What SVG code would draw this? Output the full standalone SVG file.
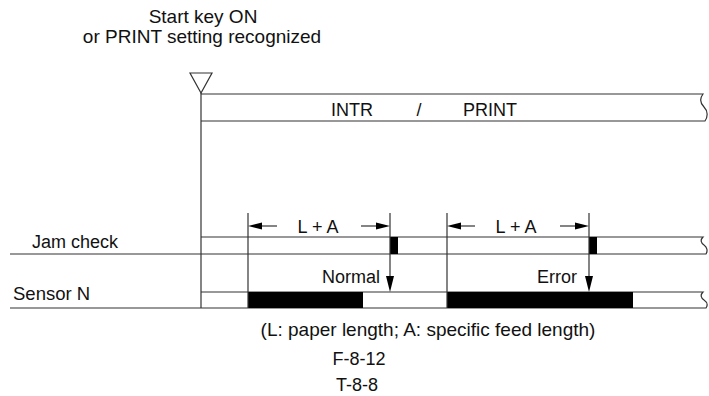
<svg xmlns="http://www.w3.org/2000/svg" width="709" height="396" viewBox="0 0 709 396">
<defs>
<style>
text{font-family:"Liberation Sans",Arial,sans-serif;font-size:18px;fill:#111}
.big{font-size:19px}
.ln{stroke:#333;stroke-width:1.2;fill:none}
.bk{fill:#000}
.ah{fill:#000;stroke:none}
</style>
</defs>
<rect width="709" height="396" fill="#fff"/>
<g id="start-label">
<text class="big" x="203" y="23" text-anchor="middle">Start key ON</text>
<text class="big" x="202" y="43" text-anchor="middle">or PRINT setting recognized</text>
</g>
<g id="start-marker">
<polygon points="190,73 212,73 201,93" class="ln"/>
</g>
<g id="intr-print">
<path class="ln" d="M201,94 H703 C700,98 700,103 704,107 C708,111 708,117 705,121 H201"/>
<text x="352" y="116" text-anchor="middle">INTR</text>
<text x="419" y="116" text-anchor="middle">/</text>
<text x="490" y="116" text-anchor="middle">PRINT</text>
</g>
<g id="jam-check">
<text x="32" y="248">Jam check</text>
<path class="ln" d="M201,237 H703 C700,240 701,243 704,245 C707,247 708,251 706,254 H10"/>
<rect class="bk" x="390" y="237" width="8" height="17"/>
<rect class="bk" x="589" y="237" width="8" height="17"/>
</g>
<g id="sensor-n">
<text x="13" y="300" style="font-size:18.5px">Sensor N</text>
<path class="ln" d="M201,292 H703 C700,295 701,298 704,300 C707,302 708,305 706,308 H10"/>
<rect class="bk" x="248" y="292" width="115" height="16"/>
<rect class="bk" x="447" y="292" width="186" height="16"/>
</g>
<g id="connectors">
<line class="ln" x1="201" y1="93" x2="201" y2="308"/>
<line class="ln" x1="248" y1="213" x2="248" y2="308"/>
<line class="ln" x1="447" y1="213" x2="447" y2="308"/>
<line class="ln" x1="390" y1="213" x2="390" y2="280"/>
<line class="ln" x1="589" y1="213" x2="589" y2="280"/>
<polygon class="ah" points="386,276 394,276 390,292"/>
<polygon class="ah" points="585,276 593,276 589,292"/>
<line class="ln" x1="256" y1="226" x2="277" y2="226"/>
<polygon class="ah" points="248,226 262,222.5 262,229.5"/>
<line class="ln" x1="361" y1="226" x2="382" y2="226"/>
<polygon class="ah" points="390,226 376,222.5 376,229.5"/>
<line class="ln" x1="455" y1="226" x2="475" y2="226"/>
<polygon class="ah" points="447,226 461,222.5 461,229.5"/>
<line class="ln" x1="560" y1="226" x2="581" y2="226"/>
<polygon class="ah" points="589,226 575,222.5 575,229.5"/>
</g>
<g id="labels">
<text x="318" y="233" text-anchor="middle">L + A</text>
<text x="516" y="233" text-anchor="middle">L + A</text>
<text x="380" y="283" text-anchor="end">Normal</text>
<text x="577" y="283" text-anchor="end">Error</text>
<text class="big" x="428" y="336" text-anchor="middle">(L: paper length; A: specific feed length)</text>
<text x="359" y="365" text-anchor="middle">F-8-12</text>
<text x="357" y="391" text-anchor="middle">T-8-8</text>
</g>
</svg>
